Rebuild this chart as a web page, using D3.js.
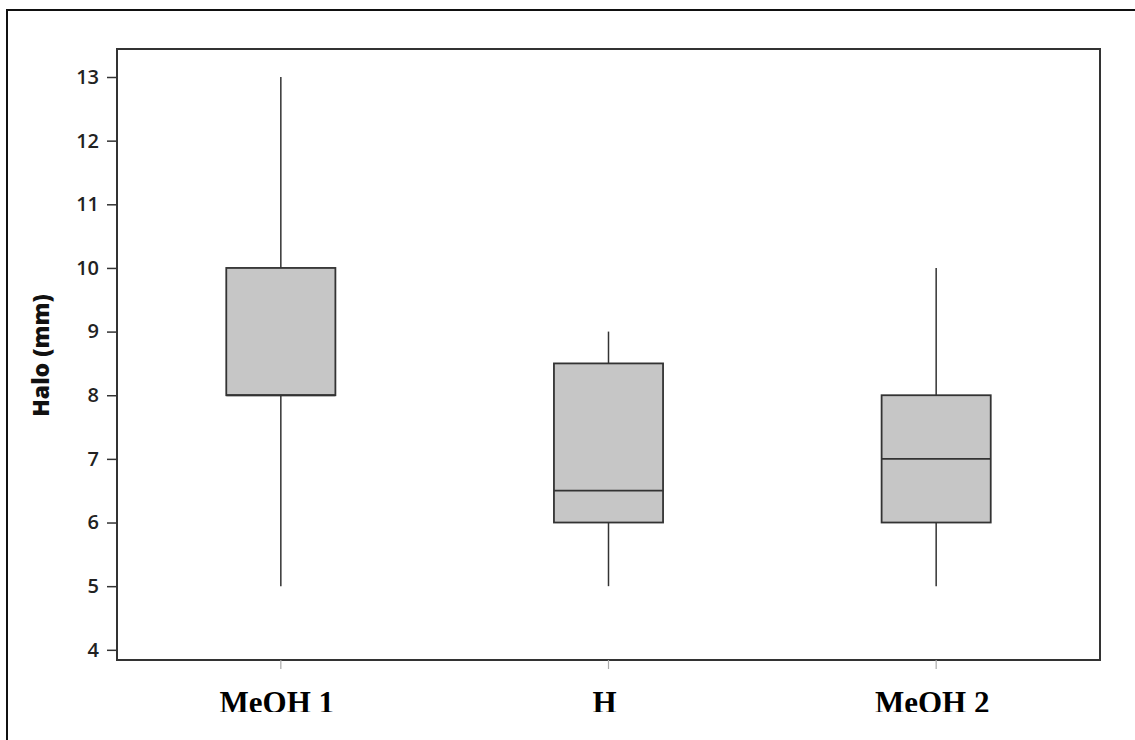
<!DOCTYPE html>
<html>
<head>
<meta charset="utf-8">
<script src="https://cdnjs.cloudflare.com/ajax/libs/d3/7.8.5/d3.min.js"></script>
<style>
	body { margin: 0; background: #fff; }
	svg { display: block; }
</style>
</head>
<body>
<svg id="chart" width="1135" height="740"></svg>
<script>
//data
var categories = ["MeOH 1", "H", "MeOH 2"];
var mins = [5, 5, 5];
var q1s = [8, 6, 6];
var medians = [8, 6.5, 7];
var q3s = [10, 8.5, 8];
var maxs = [13, 9, 10];
var yTicks = [4, 5, 6, 7, 8, 9, 10, 11, 12, 13];

var boxes = categories.map(function(c, i) {
	return {name: c, min: mins[i], q1: q1s[i], med: medians[i], q3: q3s[i], max: maxs[i]};
});

var svg = d3.select("#chart");
var plot = {left: 117, top: 49, right: 1100, bottom: 660};

//outer frame, only top and left edge are visible
svg.append("rect")
	.attr("x", 7).attr("y", 10)
	.attr("width", 1140).attr("height", 760)
	.attr("fill", "none").attr("stroke", "#111").attr("stroke-width", 2);

var x = d3.scaleBand()
	.domain(categories)
	.range([plot.left, plot.right])
	.padding(0);

var y = d3.scaleLinear()
	.domain([3.84, 13.44])
	.range([plot.bottom, plot.top]);

var boxW = x.bandwidth() * 0.333;

//plot frame
svg.append("rect")
	.attr("x", plot.left).attr("y", plot.top)
	.attr("width", plot.right - plot.left).attr("height", plot.bottom - plot.top)
	.attr("fill", "none").attr("stroke", "#333").attr("stroke-width", 2);

//y axis
var yAxis = svg.append("g")
	.attr("transform", "translate(" + plot.left + ",0)")
	.call(d3.axisLeft(y).tickValues(yTicks).tickSize(10).tickPadding(8).tickFormat(d3.format("d")));
yAxis.select(".domain").remove();
yAxis.selectAll(".tick line").attr("stroke", "#333").attr("stroke-width", 1.5);
yAxis.selectAll(".tick text")
	.attr("font-family", "'Open Sans', sans-serif")
	.attr("font-size", 20)
	.attr("font-weight", 600)
	.attr("fill", "#222");

//x axis ticks (faint)
svg.append("g").selectAll("line")
	.data(categories)
	.join("line")
	.attr("x1", function(d) { return x(d) + x.bandwidth() / 2; })
	.attr("x2", function(d) { return x(d) + x.bandwidth() / 2; })
	.attr("y1", plot.bottom)
	.attr("y2", plot.bottom + 9)
	.attr("stroke", "#aaa").attr("stroke-width", 1.2);

//y label
svg.append("text")
	.attr("transform", "translate(49," + ((plot.top + plot.bottom) / 2 + 1) + ") rotate(-90)")
	.attr("text-anchor", "middle")
	.attr("font-family", "'Open Sans', sans-serif")
	.attr("font-weight", 800)
	.attr("font-size", 23)
	.attr("fill", "#111")
	.text("Halo (mm)");

//boxes
var g = svg.append("g").selectAll("g")
	.data(boxes)
	.join("g")
	.attr("transform", function(d) { return "translate(" + (x(d.name) + x.bandwidth() / 2) + ",0)"; });

//whiskers
g.append("line")
	.attr("x1", 0).attr("x2", 0)
	.attr("y1", function(d) { return y(d.max); })
	.attr("y2", function(d) { return y(d.q3); })
	.attr("stroke", "#333").attr("stroke-width", 1.5);
g.append("line")
	.attr("x1", 0).attr("x2", 0)
	.attr("y1", function(d) { return y(d.q1); })
	.attr("y2", function(d) { return y(d.min); })
	.attr("stroke", "#333").attr("stroke-width", 1.5);

g.append("rect")
	.attr("x", -boxW / 2)
	.attr("width", boxW)
	.attr("y", function(d) { return y(d.q3); })
	.attr("height", function(d) { return y(d.q1) - y(d.q3); })
	.attr("fill", "#c6c6c6")
	.attr("stroke", "#333").attr("stroke-width", 1.8);

g.append("line")
	.attr("x1", -boxW / 2).attr("x2", boxW / 2)
	.attr("y1", function(d) { return y(d.med); })
	.attr("y2", function(d) { return y(d.med); })
	.attr("stroke", "#333").attr("stroke-width", 1.8);

//category labels, bottom slightly cut off as in the source
svg.append("clipPath").attr("id", "labclip")
	.append("rect").attr("x", 0).attr("y", 0).attr("width", 1135).attr("height", 712);

svg.append("g").attr("clip-path", "url(#labclip)")
	.selectAll("text")
	.data(categories)
	.join("text")
	.attr("x", function(d) { return x(d) + x.bandwidth() / 2 - 4; })
	.attr("y", 713)
	.attr("text-anchor", "middle")
	.attr("font-family", "'Liberation Serif', 'Times New Roman', serif")
	.attr("font-weight", "bold")
	.attr("font-size", 31)
	.attr("fill", "#000")
	.text(function(d) { return d; });
</script>
</body>
</html>
